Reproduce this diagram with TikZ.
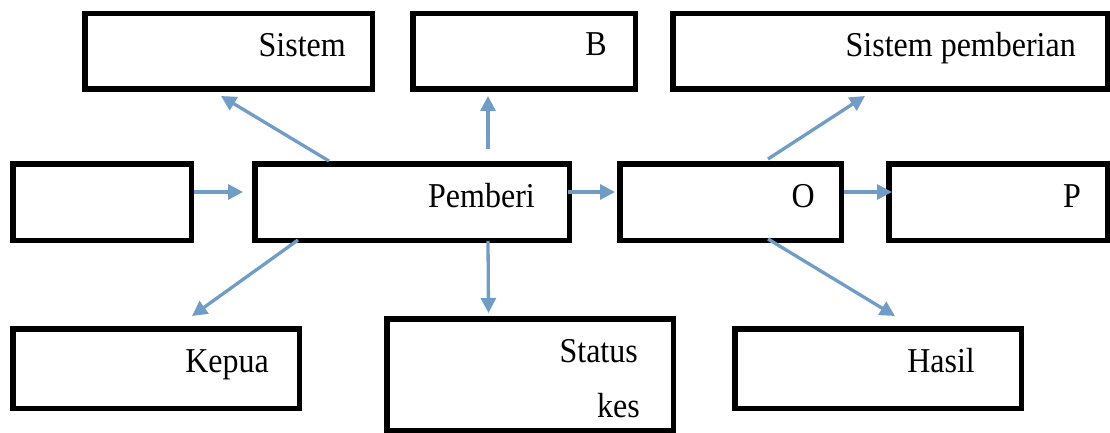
\documentclass[tikz,border=0pt]{standalone}
\usepackage{fontspec}
\setmainfont{Liberation Serif}
\usetikzlibrary{arrows.meta}
\definecolor{panahbiru}{RGB}{112,156,198}

\begin{document}
\begin{tikzpicture}[x=1pt,y=-1pt]
    \tikzstyle{kotak}=[rectangle,draw=black,line width=5.5pt,fill=white,inner sep=0pt]
    \tikzstyle{teks}=[anchor=base east,inner sep=0pt,font=\fontsize{32}{38}\selectfont]
    \tikzstyle{panah}=[draw=panahbiru,line width=3.3pt,-{Triangle[length=15pt,width=15pt]}]
    \useasboundingbox (0,0) rectangle (1110,433);

    % kotak-kotak
    \foreach \nama/\x/\y/\w/\h in {sis/228.5/51.5/287.5/75.5, bb/524/51.5/222.5/75.5,
            sisp/890/51.5/434.5/75.5, kiri/102/202/178.5/76.5, pem/412/202/314.5/76.5,
            oo/730.5/202/221.5/76.5, pp/998/202/218.5/76.5, kep/156/368.5/286.5/79.5,
            stat/530/374.5/286.5/111.5, has/878/368.5/286.5/79.5}
        \node[kotak,minimum width=\w pt,minimum height=\h pt] (\nama) at (\x,\y) {};

    % tulisan
    \foreach \nama/\x/\y/\isi in {sis-t/346/57/Sistem, bb-t/607/56/B,
            sisp-t/1076/57/Sistem pemberian, pem-t/535/207/Pemberi, oo-t/815/207/O,
            pp-t/1081/207/P, kep-t/269/372/Kepua, stat-t/638/362/Status,
            kes-t/640/417/kes, has-t/975/372/Hasil}
        \node[teks] (\nama) at (\x,\y) {\scalebox{1}[1.09]{\isi}};

    % panah
    \foreach \from/\fx/\fy/\to/\tx/\ty in {pem.north/-83/0/sis.south/-7.5/-4,
            pem.north/76/12/bb.south/-36/-4, kiri.east/0/10/pem.west/-9/10,
            pem.east/-4/10/oo.west/-2/10, oo.east/0/10/pp.west/6/10,
            oo.north/37.5/2/sisp.south/-25/-4, pem.south/-114/3/kep.north/36/10,
            pem.south/76/2/stat.north/-41.5/3, oo.south/37.5/4/has.north/17/10}
        \draw[panah] ([xshift=\fx pt,yshift=\fy pt]\from) -- ([xshift=\tx pt,yshift=\ty pt]\to);
\end{tikzpicture}
\end{document}
